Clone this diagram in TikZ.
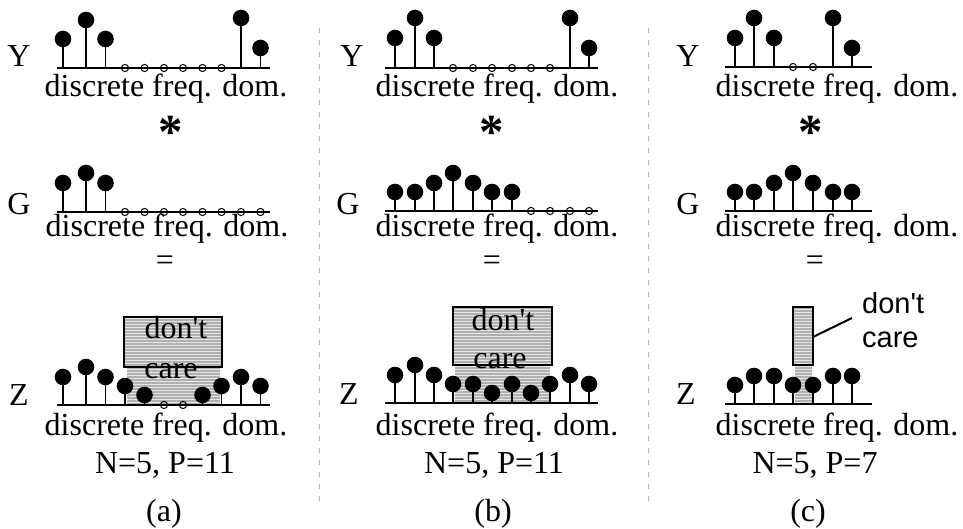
\documentclass[tikz,border=0pt]{standalone}
\usepackage{fontspec}
\setmainfont{Liberation Serif}
\newfontfamily\helvfont{Liberation Sans}
\usetikzlibrary{patterns}
\newcommand\mystems[2]{\foreach \xx/\hh in {#2} {\draw[stemline] (\xx,#1) -- (\xx,#1-\hh); \fill (\xx,#1-\hh) circle[radius=8.3pt];}}
\newcommand\myopens[2]{\foreach \xx in {#2} {\draw[opencirc] (\xx,#1) circle[radius=3.6pt];}}
\begin{document}
\begin{tikzpicture}[x=1pt,y=-1pt,
  axisline/.style={line width=2.5pt},
  stemline/.style={line width=1.3pt},
  opencirc/.style={draw=black,line width=1pt},
  lbl/.style={font=\fontsize{32}{38}\selectfont,anchor=base,inner sep=0pt},
  sidelbl/.style={font=\fontsize{29}{34}\selectfont\helvfont,anchor=base west,inner sep=0pt},
  astlbl/.style={font=\fontsize{49}{49}\selectfont\bfseries,anchor=base,inner sep=0pt},
  shade/.style={fill=gray!62},
  shadelines/.style={pattern=horizontal lines,pattern color=white!80!gray},
  dcbox/.style={draw=black,line width=2pt},
  divider/.style={draw=gray!60,line width=1pt,dash pattern=on 5pt off 7pt},
  leader/.style={line width=2pt}]
\useasboundingbox (0,0) rectangle (963,529);

% dividers
\draw[divider] (319,28) -- (319,503);
\draw[divider] (648,28) -- (648,503);

% don't care shadings
\fill[shade] (124,317) rectangle (222,367);
\fill[shade] (127,367) rectangle (220,405);
\fill[shadelines] (124,317) rectangle (222,367);
\fill[shadelines] (127,367) rectangle (220,405);
\draw[dcbox] (124,317) rectangle (222,367);

\fill[shade] (453,307) rectangle (552,365);
\fill[shade] (455,365) rectangle (550,403);
\fill[shadelines] (453,307) rectangle (552,365);
\fill[shadelines] (455,365) rectangle (550,403);
\draw[dcbox] (453,307) rectangle (552,365);

\fill[shade] (793,307) rectangle (813,365);
\fill[shade] (795,365) rectangle (812,404);
\fill[shadelines] (793,307) rectangle (813,365);
\fill[shadelines] (795,365) rectangle (812,404);
\draw[dcbox] (793,307) rectangle (813,365);

% ---- panel (a)
\mystems{68}{63/29, 86/48, 105.5/29, 241/50, 260.5/20}
\myopens{68}{125,144.5,164,183,202.5,221.5}
\draw[axisline] (57,68) -- (270,68);
\mystems{212}{63/29, 86/39, 105.5/29}
\myopens{212}{125,144.5,164,183,202.5,221.5,241,260.5}
\draw[axisline] (57,212) -- (270,212);
\mystems{405}{63/28, 86/38, 105.5/28, 125/19, 144.5/10, 202.5/10, 221.5/19, 241/28, 260.5/19}
\myopens{405}{164,183}
\draw[axisline] (57,405) -- (270,405);

% ---- panel (b)
\mystems{68}{395/30, 415/50, 434/30, 570/50, 589/20}
\myopens{68}{453,473,492,512,531,550}
\draw[axisline] (385,68) -- (598,68);
\mystems{211}{395/19, 415/19, 434/28, 453/38, 473/28, 492/19, 512/19}
\myopens{211}{531,550,570,589}
\draw[axisline] (385,211) -- (598,211);
\mystems{403}{395/28, 415/38, 434/28, 453/19, 473/19, 492/10, 512/19, 531/10, 550/19, 570/28, 589/19}
\draw[axisline] (385,403) -- (598,403);

% ---- panel (c)
\mystems{67}{735/29, 754/49, 774/29, 833/49, 852/19}
\myopens{67}{793,813}
\draw[axisline] (725,67) -- (872,67);
\mystems{211}{735/19, 754/19, 774/28, 793/38, 813/28, 833/19, 852/19}
\draw[axisline] (725,211) -- (872,211);
\mystems{404}{735/19, 754/28, 774/28, 793/19, 813/19, 833/28, 852/28}
\draw[axisline] (725,404) -- (872,404);

% ---- texts (a)
\node[lbl] (ya) at (19,67) {Y};
\node[lbl] (tya) at (166,97) {discrete freq. dom.};
\node[astlbl] (sa) at (171,149) {*};
\node[lbl] (ga) at (19,215) {G};
\node[lbl] (tga) at (167,237) {discrete freq. dom.};
\node[lbl] (ea) at (165,270) {=};
\node[lbl] (za) at (19,405) {Z};
\node[lbl] (tza) at (166,435) {discrete freq. dom.};
\node[lbl] (na) at (165,473) {N=5, P=11};
\node[lbl] (capa) at (164,521) {(a)};
\node[lbl] (dca1) at (176,338) {don\textquotesingle t};
\node[lbl] (dca2) at (171,378) {care};

% ---- texts (b)
\node[lbl] (yb) at (352,67) {Y};
\node[lbl] (tyb) at (497,97) {discrete freq. dom.};
\node[astlbl] (sb) at (492,149) {*};
\node[lbl] (gb) at (348,215) {G};
\node[lbl] (tgb) at (497,237) {discrete freq. dom.};
\node[lbl] (eb) at (492,270) {=};
\node[lbl] (zb) at (349,404) {Z};
\node[lbl] (tzb) at (497,435) {discrete freq. dom.};
\node[lbl] (nb) at (494,473) {N=5, P=11};
\node[lbl] (capb) at (493,521) {(b)};
\node[lbl] (dcb1) at (503,330) {don\textquotesingle t};
\node[lbl] (dcb2) at (500,368) {care};

% ---- texts (c)
\node[lbl] (yc) at (688,67) {Y};
\node[lbl] (tyc) at (837,97) {discrete freq. dom.};
\node[astlbl] (sc) at (811,149) {*};
\node[lbl] (gc) at (688,215) {G};
\node[lbl] (tgc) at (837,237) {discrete freq. dom.};
\node[lbl] (ec) at (815,270) {=};
\node[lbl] (zc) at (686,404) {Z};
\node[lbl] (tzc) at (837,435) {discrete freq. dom.};
\node[lbl] (nc) at (815,473) {N=5, P=7};
\node[lbl] (capc) at (808,521) {(c)};
\node[sidelbl] (dcc1) at (862,313) {don\textquotesingle t};
\node[sidelbl] (dcc2) at (862,347) {care};
\coordinate (lc1) at (813,337);
\coordinate (lc2) at (852,318);
\draw[leader] (lc1) -- (lc2);
\end{tikzpicture}
\end{document}
